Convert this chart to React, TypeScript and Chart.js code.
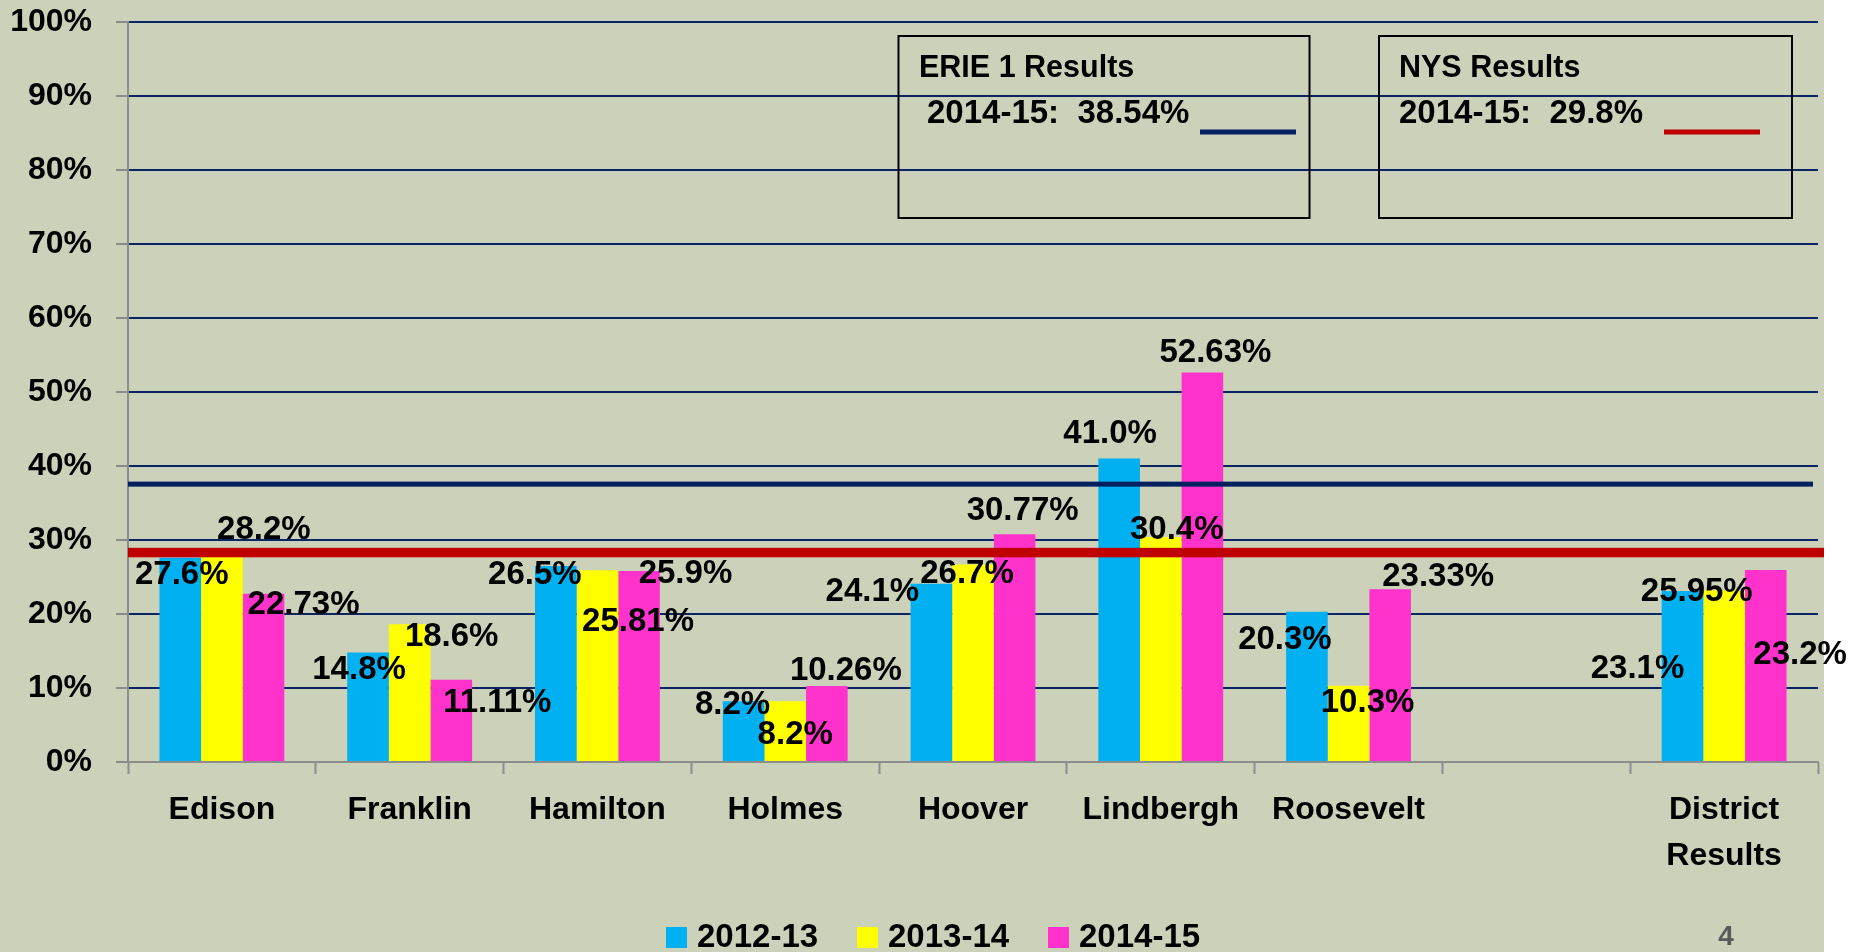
import React, { useEffect, useRef } from "react";
import { Chart, registerables } from "chart.js";

Chart.register(...registerables);

// ---- data ----
const CATEGORIES: (string | string[])[] = [
  "Edison",
  "Franklin",
  "Hamilton",
  "Holmes",
  "Hoover",
  "Lindbergh",
  "Roosevelt",
  "",
  ["District", "Results"],
];
const SERIES_NAMES = ["2012-13", "2013-14", "2014-15"];
const VALUES_2012_13 = [27.6, 14.8, 26.5, 8.2, 24.1, 41.0, 20.3, null, 23.1];
const VALUES_2013_14 = [28.2, 18.6, 25.9, 8.2, 26.7, 30.4, 10.3, null, 23.2];
const VALUES_2014_15 = [22.73, 11.11, 25.81, 10.26, 30.77, 52.63, 23.33, null, 25.95];
const LABEL_DECIMALS = [1, 1, 2];
const Y_TICKS = [0, 10, 20, 30, 40, 50, 60, 70, 80, 90, 100];

// reference lines (as drawn) and their captions
const ERIE_LINE_VALUE = 37.55;
const NYS_LINE_VALUE = 28.3;
const ERIE_TITLE = "ERIE 1 Results";
const ERIE_TEXT = "2014-15:  38.54%";
const NYS_TITLE = "NYS Results";
const NYS_TEXT = "2014-15:  29.8%";
const PAGE_NUMBER = "4";

// ---- label placement (pixel offsets from bar top centre) ----
const LABEL_OFFSETS: ([number, number] | null)[][] = [
  [[1.5, 17], [-9, 17.5], [-21, 9], [-11, 4], [-59, 8], [-9, -25], [-22, 28], null, [-45, 78]],
  [[42, -23], [42, 13], [88, 4], [10, 34], [-6, 9], [16, -7], [19, 17.5], null, [76, 65]],
  [[40, 11], [46, 23], [-1, 51], [19, -15], [8, -23], [13, -20], [48, -12], null, [-69, 22]],
];

// ---- styles ----
const COLORS = ["#00B0F0", "#FFFF00", "#FF33CC"];
const BG = "#CCD1BA";
const NAVY = "#0B2462";
const AXIS_GREY = "#8C8C8C";
const RED = "#C00000";
const FONT = '"Liberation Sans", Arial, sans-serif';

const W = 1853;
const H = 952;

const backgroundPlugin = {
  id: "bgFill",
  beforeDraw(chart: any) {
    const ctx = chart.ctx;
    ctx.save();
    ctx.fillStyle = BG;
    ctx.fillRect(0, 0, 1824, H);
    ctx.restore();
  },
};

const overlayPlugin = {
  id: "overlay",
  afterDatasetsDraw(chart: any) {
    const ctx = chart.ctx;
    const y = chart.scales.y;
    const area = chart.chartArea;
    ctx.save();

    // reference lines
    const erieY = y.getPixelForValue(ERIE_LINE_VALUE);
    ctx.fillStyle = "#002060";
    ctx.fillRect(area.left, erieY - 2.5, area.right - 5 - area.left, 5);
    const nysY = y.getPixelForValue(NYS_LINE_VALUE);
    ctx.fillStyle = RED;
    ctx.fillRect(area.left, nysY - 4.75, area.right + 6 - area.left, 9.5);

    // data labels
    ctx.fillStyle = "#000";
    ctx.font = `bold 33px ${FONT}`;
    ctx.textAlign = "center";
    ctx.textBaseline = "middle";
    chart.data.datasets.forEach((ds: any, i: number) => {
      const meta = chart.getDatasetMeta(i);
      ds.data.forEach((v: number | null, j: number) => {
        if (v === null || v === undefined) return;
        const el = meta.data[j];
        const off = LABEL_OFFSETS[i][j] || [0, -20];
        ctx.fillText(v.toFixed(LABEL_DECIMALS[i]) + "%", el.x + off[0], el.y + off[1]);
      });
    });

    // text boxes
    ctx.strokeStyle = "#000";
    ctx.lineWidth = 2;
    ctx.strokeRect(898.5, 36, 411, 182);
    ctx.strokeRect(1379, 36, 413, 182);
    ctx.textAlign = "left";
    ctx.font = `bold 30.5px ${FONT}`;
    ctx.fillText(ERIE_TITLE, 919, 69);
    ctx.fillText(NYS_TITLE, 1399, 69);
    ctx.font = `bold 33px ${FONT}`;
    ctx.fillText(ERIE_TEXT, 927, 114);
    ctx.fillText(NYS_TEXT, 1399, 114);
    ctx.fillStyle = "#002060";
    ctx.fillRect(1200, 129.5, 96, 5);
    ctx.fillStyle = RED;
    ctx.fillRect(1664, 129.5, 96, 5);

    // legend
    const legendX = [666, 857, 1048];
    ctx.font = `bold 33px ${FONT}`;
    SERIES_NAMES.forEach((name, i) => {
      ctx.fillStyle = COLORS[i];
      ctx.fillRect(legendX[i], 927, 21, 21);
      ctx.fillStyle = "#000";
      ctx.fillText(name, legendX[i] + 31, 938);
    });

    // page number
    ctx.fillStyle = "#595959";
    ctx.font = `bold 28px ${FONT}`;
    ctx.textAlign = "center";
    ctx.fillText(PAGE_NUMBER, 1726, 937);

    ctx.restore();
  },
};

export default function App() {
  const canvasRef = useRef<HTMLCanvasElement | null>(null);

  useEffect(() => {
    if (!canvasRef.current) return;
    const series = [VALUES_2012_13, VALUES_2013_14, VALUES_2014_15];
    const chart = new Chart(canvasRef.current, {
      type: "bar",
      data: {
        labels: CATEGORIES as any,
        datasets: series.map((vals, i) => ({
          label: SERIES_NAMES[i],
          data: vals as any,
          backgroundColor: COLORS[i],
          borderWidth: 0,
          categoryPercentage: 0.665,
          barPercentage: 1,
        })),
      },
      options: {
        responsive: false,
        animation: false,
        layout: { padding: { left: 0, top: 22, right: 35, bottom: 0 } },
        plugins: {
          legend: { display: false },
          tooltip: { enabled: false },
          title: { display: false },
        },
        scales: {
          x: {
            type: "category",
            offset: true,
            grid: {
              display: true,
              offset: true,
              drawOnChartArea: false,
              drawTicks: true,
              tickLength: 12,
              tickColor: AXIS_GREY,
              tickWidth: 2,
            },
            border: { display: true, color: AXIS_GREY, width: 2 },
            ticks: {
              autoSkip: false,
              maxRotation: 0,
              minRotation: 0,
              padding: 13,
              color: "#000",
              font: { family: FONT, size: 32, weight: "bold", lineHeight: 1.45 },
            },
            afterFit(scale: any) {
              scale.height = 190;
              scale.paddingLeft = 0;
              scale.paddingRight = 0;
            },
          },
          y: {
            min: 0,
            max: 100,
            afterBuildTicks(scale: any) {
              scale.ticks = Y_TICKS.map((v) => ({ value: v }));
            },
            grid: {
              color: (c: any) => (c.tick && c.tick.value === 0 ? "rgba(0,0,0,0)" : NAVY),
              lineWidth: 2,
              drawTicks: true,
              tickLength: 12,
              tickColor: AXIS_GREY,
              tickWidth: 2,
            },
            border: { display: true, color: AXIS_GREY, width: 2 },
            ticks: {
              padding: 24,
              color: "#000",
              font: { family: FONT, size: 32, weight: "bold" },
              callback: (v: any) => v + "%",
            },
            afterFit(scale: any) {
              scale.width = 128;
              scale.paddingTop = 0;
              scale.paddingBottom = 0;
            },
          },
        },
      },
      plugins: [backgroundPlugin, overlayPlugin],
    });
    return () => chart.destroy();
  }, []);

  return (
    <div style={{ position: "absolute", left: 0, top: 0, width: W, height: H }}>
      <canvas ref={canvasRef} width={W} height={H} style={{ display: "block" }} />
    </div>
  );
}
